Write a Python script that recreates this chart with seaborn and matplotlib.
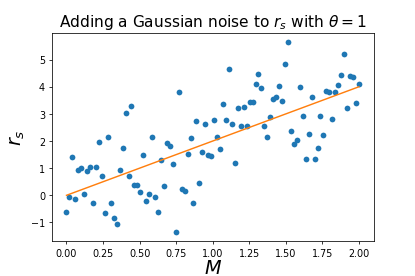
import numpy as np
import pandas as pd
import seaborn as sns
import matplotlib.pyplot as plt

# M values: 100 evenly spaced points between 0 and 2
M = np.linspace(0, 2, 100)

# noisy r_s values
r_s = [-0.62, -0.05, 1.43, -0.12, 0.94, 1.02, 0.06, 0.91, 1.03, -0.27,
       1.03, 1.95, 0.71, -0.66, 2.16, -0.27, -0.85, -1.05, 0.93, 1.76,
       3.03, 0.71, 3.28, 0.38, 0.38, 0.11, 1.48, -0.21, 0.06, 2.16,
       -0.05, -0.63, 1.31, 0.36, 1.94, 1.81, 1.17, -1.34, 3.80,
       0.22, 0.17, 1.52, 2.12, -0.28, 2.73, 0.47, 1.59, 2.61, 1.50,
       1.45, 2.77, 2.16, 1.69, 3.35, 2.78, 4.66, 2.61, 1.19, 3.22,
       2.55, 3.26, 2.55, 3.44, 3.44, 4.12, 4.46, 3.96, 2.55, 2.14,
       2.88, 3.54, 3.63, 4.04, 3.48, 4.84, 5.65, 2.36, 1.88, 2.02,
       3.98, 2.92, 1.35, 2.27, 3.63, 1.35, 1.74, 2.92, 2.24, 3.85,
       3.82, 2.80, 3.79, 4.06, 4.45, 5.21, 3.22, 4.39, 4.36, 3.42, 4.11]

# noiseless relation r_s = 2 M
r_true = 2 * M

df = pd.DataFrame({'M': M, 'r_s': r_s, 'r_true': r_true})

fig, ax = plt.subplots(figsize=(6, 4), dpi=415 / 6)
fig.subplots_adjust(left=0.125, right=0.9, top=0.88, bottom=0.126)

sns.scatterplot(data=df, x='M', y='r_s', ax=ax, color='C0', s=36, linewidth=0)
sns.lineplot(data=df, x='M', y='r_true', ax=ax, color='C1')

ax.set_title(r'Adding a Gaussian noise to $r_s$ with $\theta = 1$', fontsize=16)
ax.set_xlabel(r'$M$', fontsize=20, labelpad=0)
ax.set_ylabel(r'$r_s$', fontsize=20)

fig.savefig('out.png', dpi=415 / 6)
